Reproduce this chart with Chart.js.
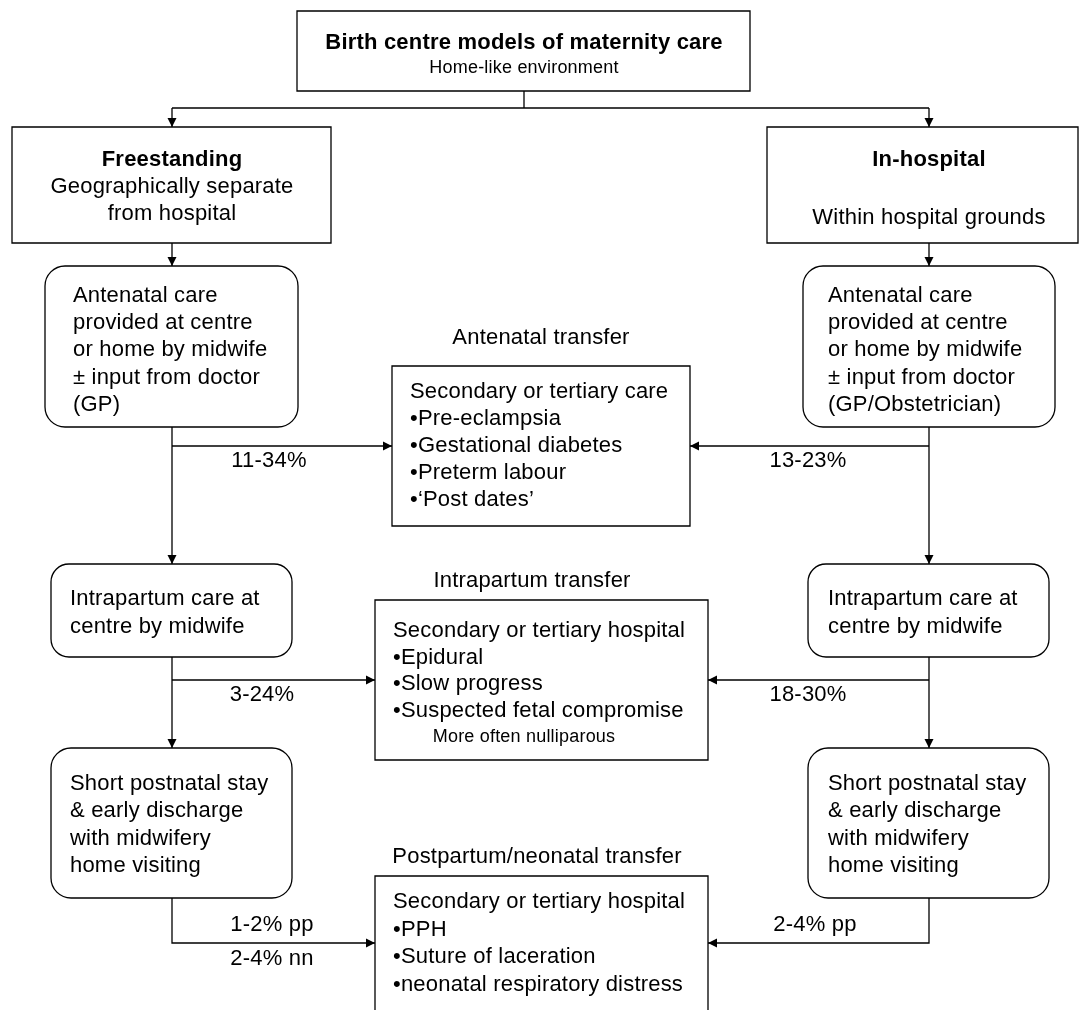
<!DOCTYPE html>
<html>
<head>
<meta charset="utf-8">
<script src="https://cdn.jsdelivr.net/npm/chart.js@4.4.1/dist/chart.umd.min.js"></script>
<style>
  html, body { margin: 0; padding: 0; background: #fff; }
  canvas { display: block; }
</style>
</head>
<body>
<canvas id="flow" width="1079" height="1010"></canvas>
<script>
// --- texts of the diagram ---
const topTitle = ['Birth centre models of maternity care', 'Home-like environment'];
const modelNames = ['Freestanding', 'In-hospital'];
const modelNotes = [['Geographically separate', 'from hospital'], ['Within hospital grounds']];
const antenatalCare = [
    ['Antenatal care', 'provided at centre', 'or home by midwife', '\u00b1 input from doctor', '(GP)'],
    ['Antenatal care', 'provided at centre', 'or home by midwife', '\u00b1 input from doctor', '(GP/Obstetrician)']
];
const intrapartumCare = ['Intrapartum care at', 'centre by midwife'];
const postnatalCare = ['Short postnatal stay', '& early discharge', 'with midwifery', 'home visiting'];
const transferTitles = ['Antenatal transfer', 'Intrapartum transfer', 'Postpartum/neonatal transfer'];
const transferLines = [
    ['Secondary or tertiary care', '\u2022Pre-eclampsia', '\u2022Gestational diabetes', '\u2022Preterm labour', '\u2022\u2018Post dates\u2019'],
    ['Secondary or tertiary hospital', '\u2022Epidural', '\u2022Slow progress', '\u2022Suspected fetal compromise'],
    ['Secondary or tertiary hospital', '\u2022PPH', '\u2022Suture of laceration', '\u2022neonatal respiratory distress']
];
const transferNote = 'More often nulliparous';
const freestandingRates = [['11-34%'], ['3-24%'], ['1-2% pp', '2-4% nn']];
const inHospitalRates = [['13-23%'], ['18-30%'], ['2-4% pp']];

// --- layout, in axis units (axes run 0..1079 and 0..1010) ---
const layout = {
    top: { x0: 297, x1: 750, y0: 11, y1: 91 },
    models: [{ x0: 12, x1: 331, y0: 127, y1: 243 }, { x0: 767, x1: 1078, y0: 127, y1: 243 }],
    col: [172, 929],
    splitY: 108,
    stageLeft: [{ x0: 45, x1: 298, y0: 266, y1: 427 }, { x0: 51, x1: 292, y0: 564, y1: 657 }, { x0: 51, x1: 292, y0: 748, y1: 898 }],
    stageRight: [{ x0: 803, x1: 1055, y0: 266, y1: 427 }, { x0: 808, x1: 1049, y0: 564, y1: 657 }, { x0: 808, x1: 1049, y0: 748, y1: 898 }],
    transfers: [{ x0: 392, x1: 690, y0: 366, y1: 526 }, { x0: 375, x1: 708, y0: 600, y1: 760 }, { x0: 375, x1: 708, y0: 876, y1: 1030 }],
    branchY: [446, 680, 943]
};

const FONT = '"Liberation Sans", Arial, sans-serif';

function px(chart, x, y) {
    return [chart.scales.x.getPixelForValue(x), chart.scales.y.getPixelForValue(y)];
}

function drawBox(chart, b, radius) {
    const ctx = chart.ctx;
    const [x0, y0] = px(chart, b.x0, b.y0);
    const [x1, y1] = px(chart, b.x1, b.y1);
    ctx.beginPath();
    if (radius) {
        ctx.moveTo(x0 + radius, y0);
        ctx.arcTo(x1, y0, x1, y1, radius);
        ctx.arcTo(x1, y1, x0, y1, radius);
        ctx.arcTo(x0, y1, x0, y0, radius);
        ctx.arcTo(x0, y0, x1, y0, radius);
        ctx.closePath();
    } else {
        ctx.rect(x0, y0, x1 - x0, y1 - y0);
    }
    ctx.fillStyle = '#fff';
    ctx.fill();
    ctx.strokeStyle = '#000';
    ctx.lineWidth = 1.3;
    ctx.stroke();
}

function drawText(chart, lines, x, y, step, opts) {
    const ctx = chart.ctx;
    ctx.save();
    ctx.font = (opts.bold ? 'bold ' : '') + (opts.size || 22) + 'px ' + FONT;
    ctx.letterSpacing = (opts.spacing == null ? 0.2 : opts.spacing) + 'px';
    ctx.fillStyle = '#000';
    ctx.textAlign = opts.align || 'left';
    ctx.textBaseline = 'middle';
    lines.forEach((t, i) => {
        const [a, b] = px(chart, x, y + i * step);
        ctx.fillText(t, a, b);
    });
    ctx.restore();
}

function arrowHead(chart, x, y, dir) {
    const ctx = chart.ctx;
    const [a, b] = px(chart, x, y);
    const L = 9, W = 4.5;
    ctx.beginPath();
    if (dir === 'down') { ctx.moveTo(a, b); ctx.lineTo(a - W, b - L); ctx.lineTo(a + W, b - L); }
    if (dir === 'right') { ctx.moveTo(a, b); ctx.lineTo(a - L, b - W); ctx.lineTo(a - L, b + W); }
    if (dir === 'left') { ctx.moveTo(a, b); ctx.lineTo(a + L, b - W); ctx.lineTo(a + L, b + W); }
    ctx.closePath();
    ctx.fillStyle = '#000';
    ctx.fill();
}

// connector polylines, each ends in an arrow (except the split)
const c = layout.col;
const connectors = [
    { pts: [[524, layout.top.y1], [524, layout.splitY]], head: null },
    { pts: [[c[0], layout.splitY], [c[1], layout.splitY]], head: null },
    { pts: [[c[0], layout.splitY], [c[0], 127]], head: 'down' },
    { pts: [[c[1], layout.splitY], [c[1], 127]], head: 'down' },
    { pts: [[c[0], 243], [c[0], 266]], head: 'down' },
    { pts: [[c[1], 243], [c[1], 266]], head: 'down' },
    { pts: [[c[0], 427], [c[0], 564]], head: 'down' },
    { pts: [[c[1], 427], [c[1], 564]], head: 'down' },
    { pts: [[c[0], 446], [392, 446]], head: 'right' },
    { pts: [[c[1], 446], [690, 446]], head: 'left' },
    { pts: [[c[0], 657], [c[0], 748]], head: 'down' },
    { pts: [[c[1], 657], [c[1], 748]], head: 'down' },
    { pts: [[c[0], 680], [375, 680]], head: 'right' },
    { pts: [[c[1], 680], [708, 680]], head: 'left' },
    { pts: [[c[0], 898], [c[0], 943], [375, 943]], head: 'right' },
    { pts: [[c[1], 898], [c[1], 943], [708, 943]], head: 'left' }
];

const datasets = connectors.map(k => ({
    data: k.pts.map(p => ({ x: p[0], y: p[1] })),
    showLine: true,
    borderColor: '#000',
    borderWidth: 1.3,
    pointRadius: 0,
    fill: false
}));

const flowPlugin = {
    id: 'flow',
    afterDatasetsDraw(chart) {
        connectors.forEach(k => {
            if (k.head) {
                const p = k.pts[k.pts.length - 1];
                arrowHead(chart, p[0], p[1], k.head);
            }
        });

        // top box
        drawBox(chart, layout.top, 0);
        drawText(chart, [topTitle[0]], 524, 43, 0, { bold: true, align: 'center' });
        drawText(chart, [topTitle[1]], 524, 68, 0, { align: 'center', size: 18 });

        // model boxes
        drawBox(chart, layout.models[0], 0);
        drawText(chart, [modelNames[0]], 172, 160, 0, { bold: true, align: 'center' });
        drawText(chart, modelNotes[0], 172, 187, 26.5, { align: 'center' });
        drawBox(chart, layout.models[1], 0);
        drawText(chart, [modelNames[1]], 929, 160, 0, { bold: true, align: 'center' });
        drawText(chart, modelNotes[1], 929, 218, 0, { align: 'center' });

        // stage boxes
        drawBox(chart, layout.stageLeft[0], 20);
        drawText(chart, antenatalCare[0], 73, 296, 27.2, {});
        drawBox(chart, layout.stageRight[0], 20);
        drawText(chart, antenatalCare[1], 828, 296, 27.2, {});
        drawBox(chart, layout.stageLeft[1], 18);
        drawText(chart, intrapartumCare, 70, 599, 27.5, {});
        drawBox(chart, layout.stageRight[1], 18);
        drawText(chart, intrapartumCare, 828, 599, 27.5, {});
        drawBox(chart, layout.stageLeft[2], 20);
        drawText(chart, postnatalCare, 70, 784, 27.3, {});
        drawBox(chart, layout.stageRight[2], 20);
        drawText(chart, postnatalCare, 828, 784, 27.3, {});

        // transfer boxes
        drawText(chart, [transferTitles[0]], 541, 338, 0, { align: 'center' });
        drawBox(chart, layout.transfers[0], 0);
        drawText(chart, transferLines[0], 410, 392, 27, {});
        drawText(chart, [transferTitles[1]], 532, 581, 0, { align: 'center' });
        drawBox(chart, layout.transfers[1], 0);
        drawText(chart, transferLines[1], 393, 631, 26.7, {});
        drawText(chart, [transferNote], 524, 737, 0, { align: 'center', size: 18 });
        drawText(chart, [transferTitles[2]], 537, 857, 0, { align: 'center' });
        drawBox(chart, layout.transfers[2], 0);
        drawText(chart, transferLines[2], 393, 902, 27.7, {});

        // transfer rates
        drawText(chart, freestandingRates[0], 269, 461, 0, { align: 'center' });
        drawText(chart, freestandingRates[1], 262, 695, 0, { align: 'center' });
        drawText(chart, freestandingRates[2], 272, 925, 34, { align: 'center' });
        drawText(chart, inHospitalRates[0], 808, 461, 0, { align: 'center' });
        drawText(chart, inHospitalRates[1], 808, 695, 0, { align: 'center' });
        drawText(chart, inHospitalRates[2], 815, 925, 0, { align: 'center' });
    }
};

new Chart(document.getElementById('flow'), {
    type: 'scatter',
    data: { datasets: datasets },
    options: {
        responsive: false,
        animation: false,
        devicePixelRatio: 1,
        layout: { padding: 0 },
        scales: {
            x: { type: 'linear', min: 0, max: 1079, display: false },
            y: { type: 'linear', min: 0, max: 1010, reverse: true, display: false }
        },
        plugins: { legend: { display: false }, tooltip: { enabled: false } }
    },
    plugins: [flowPlugin]
});
</script>
</body>
</html>
